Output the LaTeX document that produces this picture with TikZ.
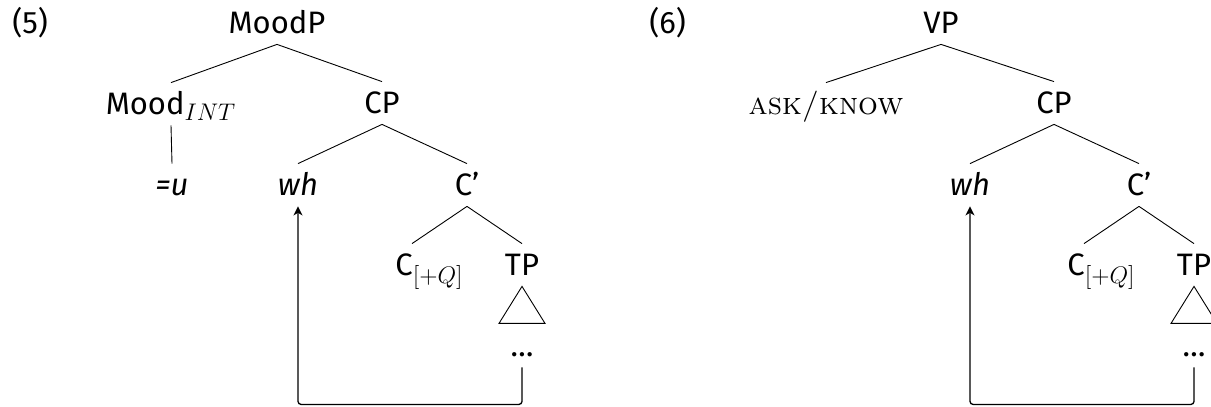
\documentclass[tikz,border=0pt]{standalone}
\usepackage[no-math]{fontspec}
\setsansfont{Fira Sans}
\DeclareMathSizes{15.5}{15.5}{11.5}{8}
\usetikzlibrary{calc,arrows.meta}
\begin{document}
\begin{tikzpicture}[x=0.5pt,y=-0.5pt,
  lbl/.style={font=\sffamily\fontsize{15.5}{18}\selectfont, text height=10pt,
    text depth=0pt, inner xsep=1pt, inner ysep=5.5pt, anchor=base},
  serif/.style={font=\rmfamily\scshape\fontsize{15.6}{18}\selectfont},
  branch/.style={line width=0.45pt},
  move/.style={line width=0.65pt, rounded corners=1.5pt,
    -{Stealth[length=4.5pt,width=4.5pt,inset=1.3pt]}}]
\useasboundingbox (0,0) rectangle (1211,407);

% ---- example (5): MoodP tree ----
\node[lbl, anchor=base west] (ex5) at (10,33) {(5)};
\node[lbl] (moodp) at (277,33) {MoodP};
\node[lbl] (mood) at (171,114) {Mood$_{INT}$};
\node[lbl] (cp) at (382,113) {CP};
\node[lbl] (u) at (172,195) {\itshape =u};
\node[lbl] (wh) at (298,195) {\itshape wh};
\node[lbl] (cbar) at (467,195) {C’};
\node[lbl, anchor=base west, inner xsep=0pt] (cq) at (395,275) {C$_{[+Q]}$};
\node[lbl] (tp) at (522,275) {TP};
\node[lbl] (dots) at (522,356) {…};

\draw[branch] (moodp.south) -- (mood.north);
\draw[branch] (moodp.south) -- (cp.north);
\draw[branch] (mood.south) -- (u.north);
\draw[branch] (cp.south) -- (wh.north);
\draw[branch] (cp.south) -- (cbar.north);
\draw[branch] (cbar.south) -- ($(cq.north west)+(17,0)$);
\draw[branch] (cbar.south) -- (tp.north);
\draw[branch] (tp.south) -- ++(-23,37) -- ++(46,0) -- cycle;
\draw[move] (dots.south) -- ++(0,37) -| (wh.south);

% ---- example (6): VP tree ----
\node[lbl, anchor=base west] (ex6) at (647,33) {(6)};
\node[lbl] (vp) at (941,33) {VP};
\node[lbl, serif] (verb) at (826,114) {ask/know};
\node[lbl] (cp2) at (1054,113) {CP};
\node[lbl] (wh2) at (970,195) {\itshape wh};
\node[lbl] (cbar2) at (1139,195) {C’};
\node[lbl, anchor=base west, inner xsep=0pt] (cq2) at (1067,275) {C$_{[+Q]}$};
\node[lbl] (tp2) at (1194,275) {TP};
\node[lbl] (dots2) at (1194,356) {…};

\draw[branch] (vp.south) -- (verb.north);
\draw[branch] (vp.south) -- (cp2.north);
\draw[branch] (cp2.south) -- (wh2.north);
\draw[branch] (cp2.south) -- (cbar2.north);
\draw[branch] (cbar2.south) -- ($(cq2.north west)+(17,0)$);
\draw[branch] (cbar2.south) -- (tp2.north);
\draw[branch] (tp2.south) -- ++(-23,37) -- ++(46,0) -- cycle;
\draw[move] (dots2.south) -- ++(0,37) -| (wh2.south);
\end{tikzpicture}
\end{document}
